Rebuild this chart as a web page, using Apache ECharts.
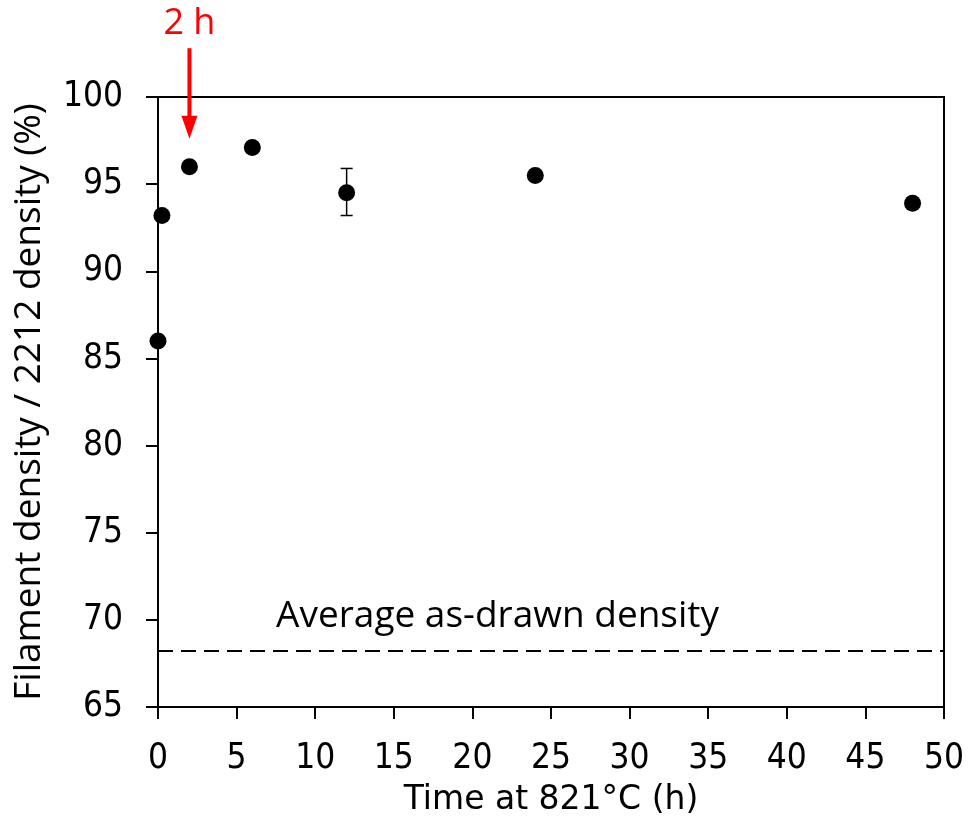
<!DOCTYPE html>
<html>
<head>
<meta charset="utf-8">
<script src="https://cdn.jsdelivr.net/npm/echarts@6/dist/echarts.min.js"></script>
<style>
  html, body { margin: 0; padding: 0; background: #fff; }
  #chart { width: 978px; height: 830px; }
</style>
</head>
<body>
<div id="chart"></div>
<script>
// measured points (time in h, density in %)
const times = [0, 0.25, 2, 6, 12, 24, 48];
const density = [86.0, 93.2, 96.0, 97.1, 94.5, 95.5, 93.9];
// error bar at 12 h
const errTime = [12];
const errLow = [93.2];
const errHigh = [95.9];
// average as-drawn density
const avgDrawn = 68.2;
// arrow marking the 2 h point
const arrowTime = 2;
const arrowFrom = 102.8;
const arrowTo = 97.6;

const labelFont = '"DejaVu Sans Condensed", "DejaVu Sans", sans-serif';
const titleFont = '"DejaVu Sans", sans-serif';
const textFont = '"Open Sans", "Noto Sans", sans-serif';

const chart = echarts.init(document.getElementById('chart'));

const option = {
  animation: false,
  backgroundColor: '#fff',
  grid: {
    left: 158,
    right: 34,
    top: 97,
    bottom: 123,
    show: true,
    borderColor: '#000',
    borderWidth: 2,
    backgroundColor: 'transparent'
  },
  xAxis: {
    type: 'value',
    min: 0,
    max: 50,
    interval: 5,
    name: 'Time at 821°C (h)',
    nameLocation: 'middle',
    nameGap: 77,
    nameTextStyle: { fontFamily: titleFont, fontSize: 33, color: '#000' },
    axisLine: { show: true, lineStyle: { color: '#000', width: 2 } },
    axisTick: { show: true, inside: false, length: 12, lineStyle: { color: '#000', width: 2 } },
    axisLabel: { margin: 34, fontFamily: labelFont, fontSize: 35, color: '#000' },
    splitLine: { show: false }
  },
  yAxis: {
    type: 'value',
    min: 65,
    max: 100,
    interval: 5,
    name: 'Filament density / 2212 density (%)',
    nameLocation: 'middle',
    nameGap: 110,
    nameTextStyle: { fontFamily: textFont, fontSize: 37, color: '#000' },
    axisLine: { show: true, lineStyle: { color: '#000', width: 2 } },
    axisTick: { show: true, inside: false, length: 12, lineStyle: { color: '#000', width: 2 } },
    axisLabel: { margin: 35, fontFamily: labelFont, fontSize: 35, color: '#000' },
    splitLine: { show: false }
  },
  series: [
    {
      type: 'custom',
      name: 'error',
      data: errTime.map((t, i) => [t, errLow[i], errHigh[i]]),
      renderItem: function (params, api) {
        const lo = api.coord([api.value(0), api.value(1)]);
        const hi = api.coord([api.value(0), api.value(2)]);
        const cap = 6;
        const style = { stroke: '#000', lineWidth: 1.5 };
        return {
          type: 'group',
          children: [
            { type: 'line', shape: { x1: lo[0], y1: lo[1], x2: hi[0], y2: hi[1] }, style: style },
            { type: 'line', shape: { x1: lo[0] - cap, y1: lo[1], x2: lo[0] + cap, y2: lo[1] }, style: style },
            { type: 'line', shape: { x1: hi[0] - cap, y1: hi[1], x2: hi[0] + cap, y2: hi[1] }, style: style }
          ]
        };
      },
      z: 1
    },
    {
      type: 'scatter',
      name: 'density',
      symbol: 'circle',
      symbolSize: 17,
      itemStyle: { color: '#000', opacity: 1 },
      data: times.map((t, i) => [t, density[i]]),
      z: 3,
      markLine: {
        silent: true,
        symbol: 'none',
        animation: false,
        lineStyle: { color: '#000', width: 2, type: [15, 8] },
        label: { show: false },
        data: [{ yAxis: avgDrawn }]
      },
      markPoint: {
        silent: true,
        animation: false,
        symbol: 'circle',
        symbolSize: 1,
        itemStyle: { color: 'transparent' },
        label: {
          show: true,
          position: 'inside',
          formatter: 'Average as-drawn density',
          color: '#000',
          fontFamily: textFont,
          fontSize: 37
        },
        data: [{ coord: [21.6, 70.2] }]
      }
    }
  ]
};

chart.setOption(option);

// red arrow + "2 h" annotation, placed from data coordinates
const arrowStart = chart.convertToPixel({ gridIndex: 0 }, [arrowTime, arrowFrom]);
const arrowTip = chart.convertToPixel({ gridIndex: 0 }, [arrowTime, arrowTo]);
const headLen = 23;
const headHalf = 8;
chart.setOption({
  graphic: [
    {
      type: 'line',
      shape: { x1: arrowStart[0], y1: arrowStart[1], x2: arrowTip[0], y2: arrowTip[1] - headLen + 2 },
      style: { stroke: '#ff0000', lineWidth: 4 },
      silent: true
    },
    {
      type: 'polygon',
      shape: {
        points: [
          [arrowTip[0] - headHalf, arrowTip[1] - headLen],
          [arrowTip[0] + headHalf, arrowTip[1] - headLen],
          [arrowTip[0], arrowTip[1]]
        ]
      },
      style: { fill: '#ff0000' },
      silent: true
    },
    {
      type: 'text',
      x: arrowStart[0],
      y: arrowStart[1] - 6,
      style: {
        text: '2 h',
        fill: '#ff0000',
        font: '36px "Open Sans", "Noto Sans", sans-serif',
        align: 'center',
        verticalAlign: 'bottom'
      },
      silent: true
    }
  ]
});
</script>
</body>
</html>
